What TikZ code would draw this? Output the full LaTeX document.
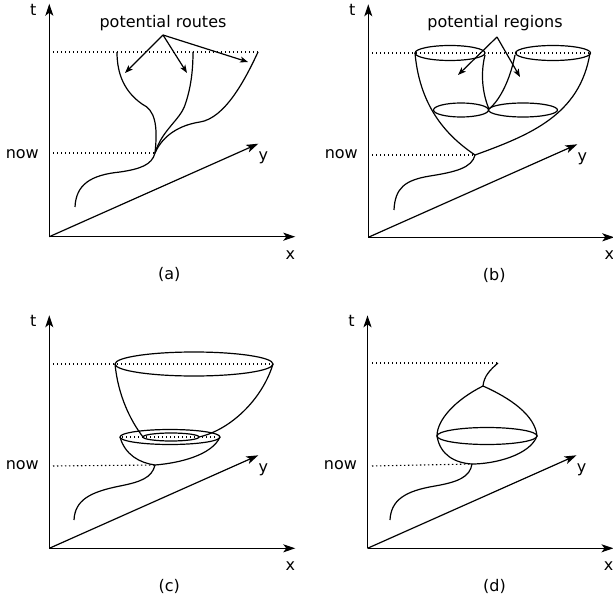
\documentclass[tikz,border=0pt]{standalone}
\usepackage{fontspec}
\setmainfont{DejaVu Sans}
\usetikzlibrary{arrows.meta}

\begin{document}
\begin{tikzpicture}[
    x=1pt, y=-1pt,
    axis/.style={-{Stealth[length=12pt, width=8pt, inset=3pt]}, line width=1.2pt},
    curve/.style={line width=1.2pt},
    dotline/.style={dash pattern=on 1.3pt off 2.7pt, line width=1.1pt},
    pointer/.style={-{Stealth[length=8pt, width=6pt, inset=2pt]}, line width=1.2pt},
    lbl/.style={font=\fontsize{16}{19}\selectfont, inner sep=0pt}
]
\useasboundingbox (0,0) rectangle (613,604);

% axes of the four panels
\foreach \ox/\oy/\cx/\p in {49.3/236.7/120/a, 368.3/237.3/126/b, 49.3/548.3/120/c, 367.5/548.3/127/d} {
  \begin{scope}[shift={(\ox,\oy)}]
    \coordinate (o\p) at (0,0);
    \coordinate (t\p) at (0,-233);
    \coordinate (x\p) at (246,0);
    \coordinate (y\p) at (209,-93);
    \draw[axis] (o\p) -- (t\p);
    \draw[axis] (o\p) -- (x\p);
    \draw[axis] (o\p) -- (y\p);
    \node[lbl] (tlab\p) at (-16,-227) {t};
    \node[lbl] (xlab\p) at (241,18) {x};
    \node[lbl] (ylab\p) at (214,-79) {y};
    \node[lbl] (now\p) at (-27,-83) {now};
    \node[lbl] (cap\p) at (\cx,38) {(\p)};
  \end{scope}
}

% (a) potential routes
\coordinate (ja) at (155,153);
\draw[dotline] (53,153) -- (ja);
\draw[dotline] (53,52) -- (258,52);
\draw[curve] (75,207) .. controls (76,185) and (90,175) .. (120,172) .. controls (140,169) and (152,165) .. (ja);
\draw[curve] (ja) .. controls (158,125) and (155,110) .. (142,104) .. controls (125,92) and (117,75) .. (117,52);
\draw[curve] (ja) .. controls (162,130) and (180,120) .. (185,105) .. controls (191,88) and (193,70) .. (193,52);
\draw[curve] (ja) .. controls (163,135) and (180,125) .. (200,122) .. controls (225,118) and (245,80) .. (258,52);
\node[lbl] (routes) at (163,23) {potential routes};
\coordinate (fa) at (163,35);
\coordinate (ra1) at (125,73);
\coordinate (ra2) at (187,73);
\coordinate (ra3) at (248,62);
\draw[pointer] (fa) -- (ra1);
\draw[pointer] (fa) -- (ra2);
\draw[pointer] (fa) -- (ra3);

% (b) potential regions
\coordinate (jb) at (475,155);
\draw[dotline] (372,155) -- (jb);
\draw[dotline] (372,53) -- (590,53);
\draw[curve] (394,210) .. controls (395,188) and (405,180) .. (430,176) .. controls (455,172) and (472,168) .. (jb);
\draw[curve] (jb) .. controls (450,138) and (420,110) .. (415,53);
\draw[curve] (jb) .. controls (530,135) and (580,115) .. (590,53);
\draw[curve] (450,53) ellipse [x radius=35pt, y radius=7.5pt];
\draw[curve] (553,53) ellipse [x radius=37.5pt, y radius=7.5pt];
\draw[curve] (461,110) ellipse [x radius=27.5pt, y radius=7pt];
\draw[curve] (523,110) ellipse [x radius=34.5pt, y radius=7pt];
\coordinate (mb) at (489,109);
\draw[curve] (485,55) .. controls (480,75) and (483,95) .. (mb);
\draw[curve] (515,55) .. controls (510,80) and (500,100) .. (mb);
\node[lbl] (regions) at (495,23) {potential regions};
\coordinate (fb) at (497,37);
\coordinate (rb1) at (458,75);
\coordinate (rb2) at (520,77);
\draw[pointer] (fb) -- (rb1);
\draw[pointer] (fb) -- (rb2);

% (c) nested bowls
\coordinate (jc) at (155,465);
\draw[dotline] (53,466) -- (jc);
\draw[dotline] (53,364) -- (273,364);
\draw[dotline] (122,437) -- (218,437);
\draw[curve] (194,364) ellipse [x radius=79pt, y radius=12pt];
\draw[curve] (170,437) ellipse [x radius=50pt, y radius=7.5pt];
\draw[curve] (171,437) ellipse [x radius=28pt, y radius=4pt];
\draw[curve] (115,364) .. controls (118,395) and (130,420) .. (143,437);
\draw[curve] (273,364) .. controls (262,400) and (230,430) .. (199,437);
\draw[curve] (120,437) .. controls (125,455) and (140,463) .. (jc);
\draw[curve] (220,437) .. controls (212,455) and (180,463) .. (jc);
\draw[curve] (jc) .. controls (152,478) and (140,482) .. (120,486) .. controls (90,492) and (75,500) .. (74,520);

% (d) single bulb
\coordinate (jd) at (472,464);
\coordinate (kd) at (483,386);
\draw[dotline] (372,466) -- (jd);
\draw[dotline] (372,363) -- (498,363);
\draw[curve] (498,363) .. controls (490,370) and (484,376) .. (kd);
\draw[curve] (kd) .. controls (455,400) and (437,420) .. (437,436);
\draw[curve] (kd) .. controls (510,398) and (535,415) .. (537,436);
\draw[curve] (487,436) ellipse [x radius=50pt, y radius=8.5pt];
\draw[curve] (437,436) .. controls (440,455) and (455,463) .. (jd);
\draw[curve] (537,436) .. controls (530,455) and (495,464) .. (jd);
\draw[curve] (jd) .. controls (470,477) and (458,482) .. (435,486) .. controls (405,491) and (391,500) .. (390,520);
\end{tikzpicture}
\end{document}
